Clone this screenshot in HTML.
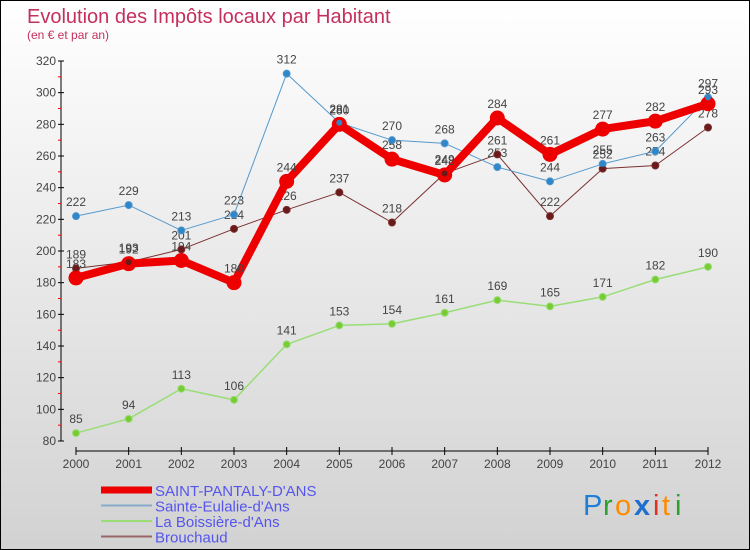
<!DOCTYPE html>
<html><head><meta charset="utf-8"><style>
html,body{margin:0;padding:0}
body{width:750px;height:550px;overflow:hidden;font-family:"Liberation Sans",sans-serif}
#wrap{position:relative;width:748px;height:548px;border:1px solid #000;background:linear-gradient(#ffffff,#d2d2d2)}
</style></head><body>
<div id="wrap">
<svg id="chart" width="748" height="548" style="position:absolute;left:0;top:0">
<text x="26" y="22" font-size="20" fill="#c4305e" style="font-weight:300">Evolution des Impôts locaux par Habitant</text>
<text x="26" y="38" font-size="12" fill="#c4305e">(en € et par an)</text>
<g id="axes"></g><g id="series"></g><g id="legend"></g>
<g font-size="29" font-family="'Liberation Sans',sans-serif" style="font-weight:300">
<text x="582" y="514" fill="#1e7fd6">P</text><text x="602" y="514" fill="#2ca02c">r</text><text x="614" y="514" fill="#ff8a00">o</text><text x="633" y="514" fill="#1e6fd0" font-weight="bold">x</text><text x="652" y="514" fill="#e03020">i</text><text x="661" y="514" fill="#ff8a00">t</text><text x="674" y="514" fill="#2ca02c">i</text>
</g>
</svg>
</div>
<script>
const years=["2000","2001","2002","2003","2004","2005","2006","2007","2008","2009","2010","2011","2012"];
const saintPantaly=[183,192,194,180,244,280,258,248,284,261,277,282,293];
const sainteEulalie=[222,229,213,223,312,281,270,268,253,244,255,263,297];
const laBoissiere=[85,94,113,106,141,153,154,161,169,165,171,182,190];
const brouchaud=[189,193,201,214,226,237,218,249,261,222,252,254,278];
const yTicks=[80,100,120,140,160,180,200,220,240,260,280,300,320];
const NS="http://www.w3.org/2000/svg";
function xs(i){return 75+i*(632/12);}
function ys(v){return 440-(v-80)*(380/240);}
function mk(t,a,p){const e=document.createElementNS(NS,t);for(const k in a)e.setAttribute(k,a[k]);p.appendChild(e);return e;}
const ax=document.getElementById('axes');
let l=mk('line',{x1:60,y1:60,x2:60,y2:440,stroke:'#000'},ax);

yTicks.forEach((v,i)=>{const y=ys(v);
 mk('line',{x1:57,y1:y,x2:63,y2:y,stroke:'#000'},ax);
 if(i<yTicks.length-1){mk('line',{x1:57,y1:ys(v+10),x2:60,y2:ys(v+10),stroke:'#f00'},ax);}
 const t=mk('text',{x:55,y:y+4,'text-anchor':'end','font-size':12,fill:'#444'},ax);t.textContent=v;
 });
l=mk('line',{x1:75,y1:450,x2:707,y2:450,stroke:'#000'},ax);

years.forEach((yr,i)=>{const x=xs(i);mk('line',{x1:x,y1:446,x2:x,y2:454,stroke:'#000'},ax);
 const t=mk('text',{x:x,y:467,'text-anchor':'middle','font-size':12,fill:'#444'},ax);t.textContent=yr;
 });
const sg=document.getElementById('series');
function draw(data,color,w,r,fill,name){
 const g=mk('g',{},sg);
 mk('polyline',{points:data.map((v,i)=>xs(i)+','+ys(v)).join(' '),fill:'none',stroke:color,'stroke-width':w,'stroke-linejoin':'round'},g);
 data.forEach((v,i)=>{const c=mk('circle',{cx:xs(i),cy:ys(v),r:r,fill:fill,stroke:color,'stroke-width':1},g);
  
  const t=mk('text',{x:xs(i),y:ys(v)-10,'text-anchor':'middle','font-size':12,fill:'#444'},g);t.textContent=v;
  });
}
draw(laBoissiere,'#99dd77',1.5,3.5,'#77cc33','series-la-boissiere');
draw(brouchaud,'#7a3030',1,3.5,'#6b1a1a','series-brouchaud');
draw(sainteEulalie,'#5599cc',1,3.5,'#2f86c8','series-sainte-eulalie');
draw(saintPantaly,'#ee0000',8,7,'#ee0000','series-saint-pantaly');
// redraw small markers over thick line
[[brouchaud,'#6b1a1a'],[sainteEulalie,'#2f86c8']].forEach(([d,c])=>d.forEach((v,i)=>{const p=mk('circle',{cx:xs(i),cy:ys(v),r:3,fill:c},sg);}));
const lg=document.getElementById('legend');
const leg=[["SAINT-PANTALY-D'ANS",'#ee0000',7],["Sainte-Eulalie-d'Ans",'#88aacc',2],["La Boissière-d'Ans",'#99dd77',2],["Brouchaud",'#996666',2]];
leg.forEach((e,i)=>{const y=489+i*15.5;const g=mk('g',{},lg);
 
 mk('line',{x1:100,y1:y,x2:151,y2:y,stroke:e[1],'stroke-width':e[2]},g);
 const t=mk('text',{x:154,y:y+6,'font-size':15,fill:'#5555ee'},g);t.textContent=e[0];});
</script>
</body></html>
